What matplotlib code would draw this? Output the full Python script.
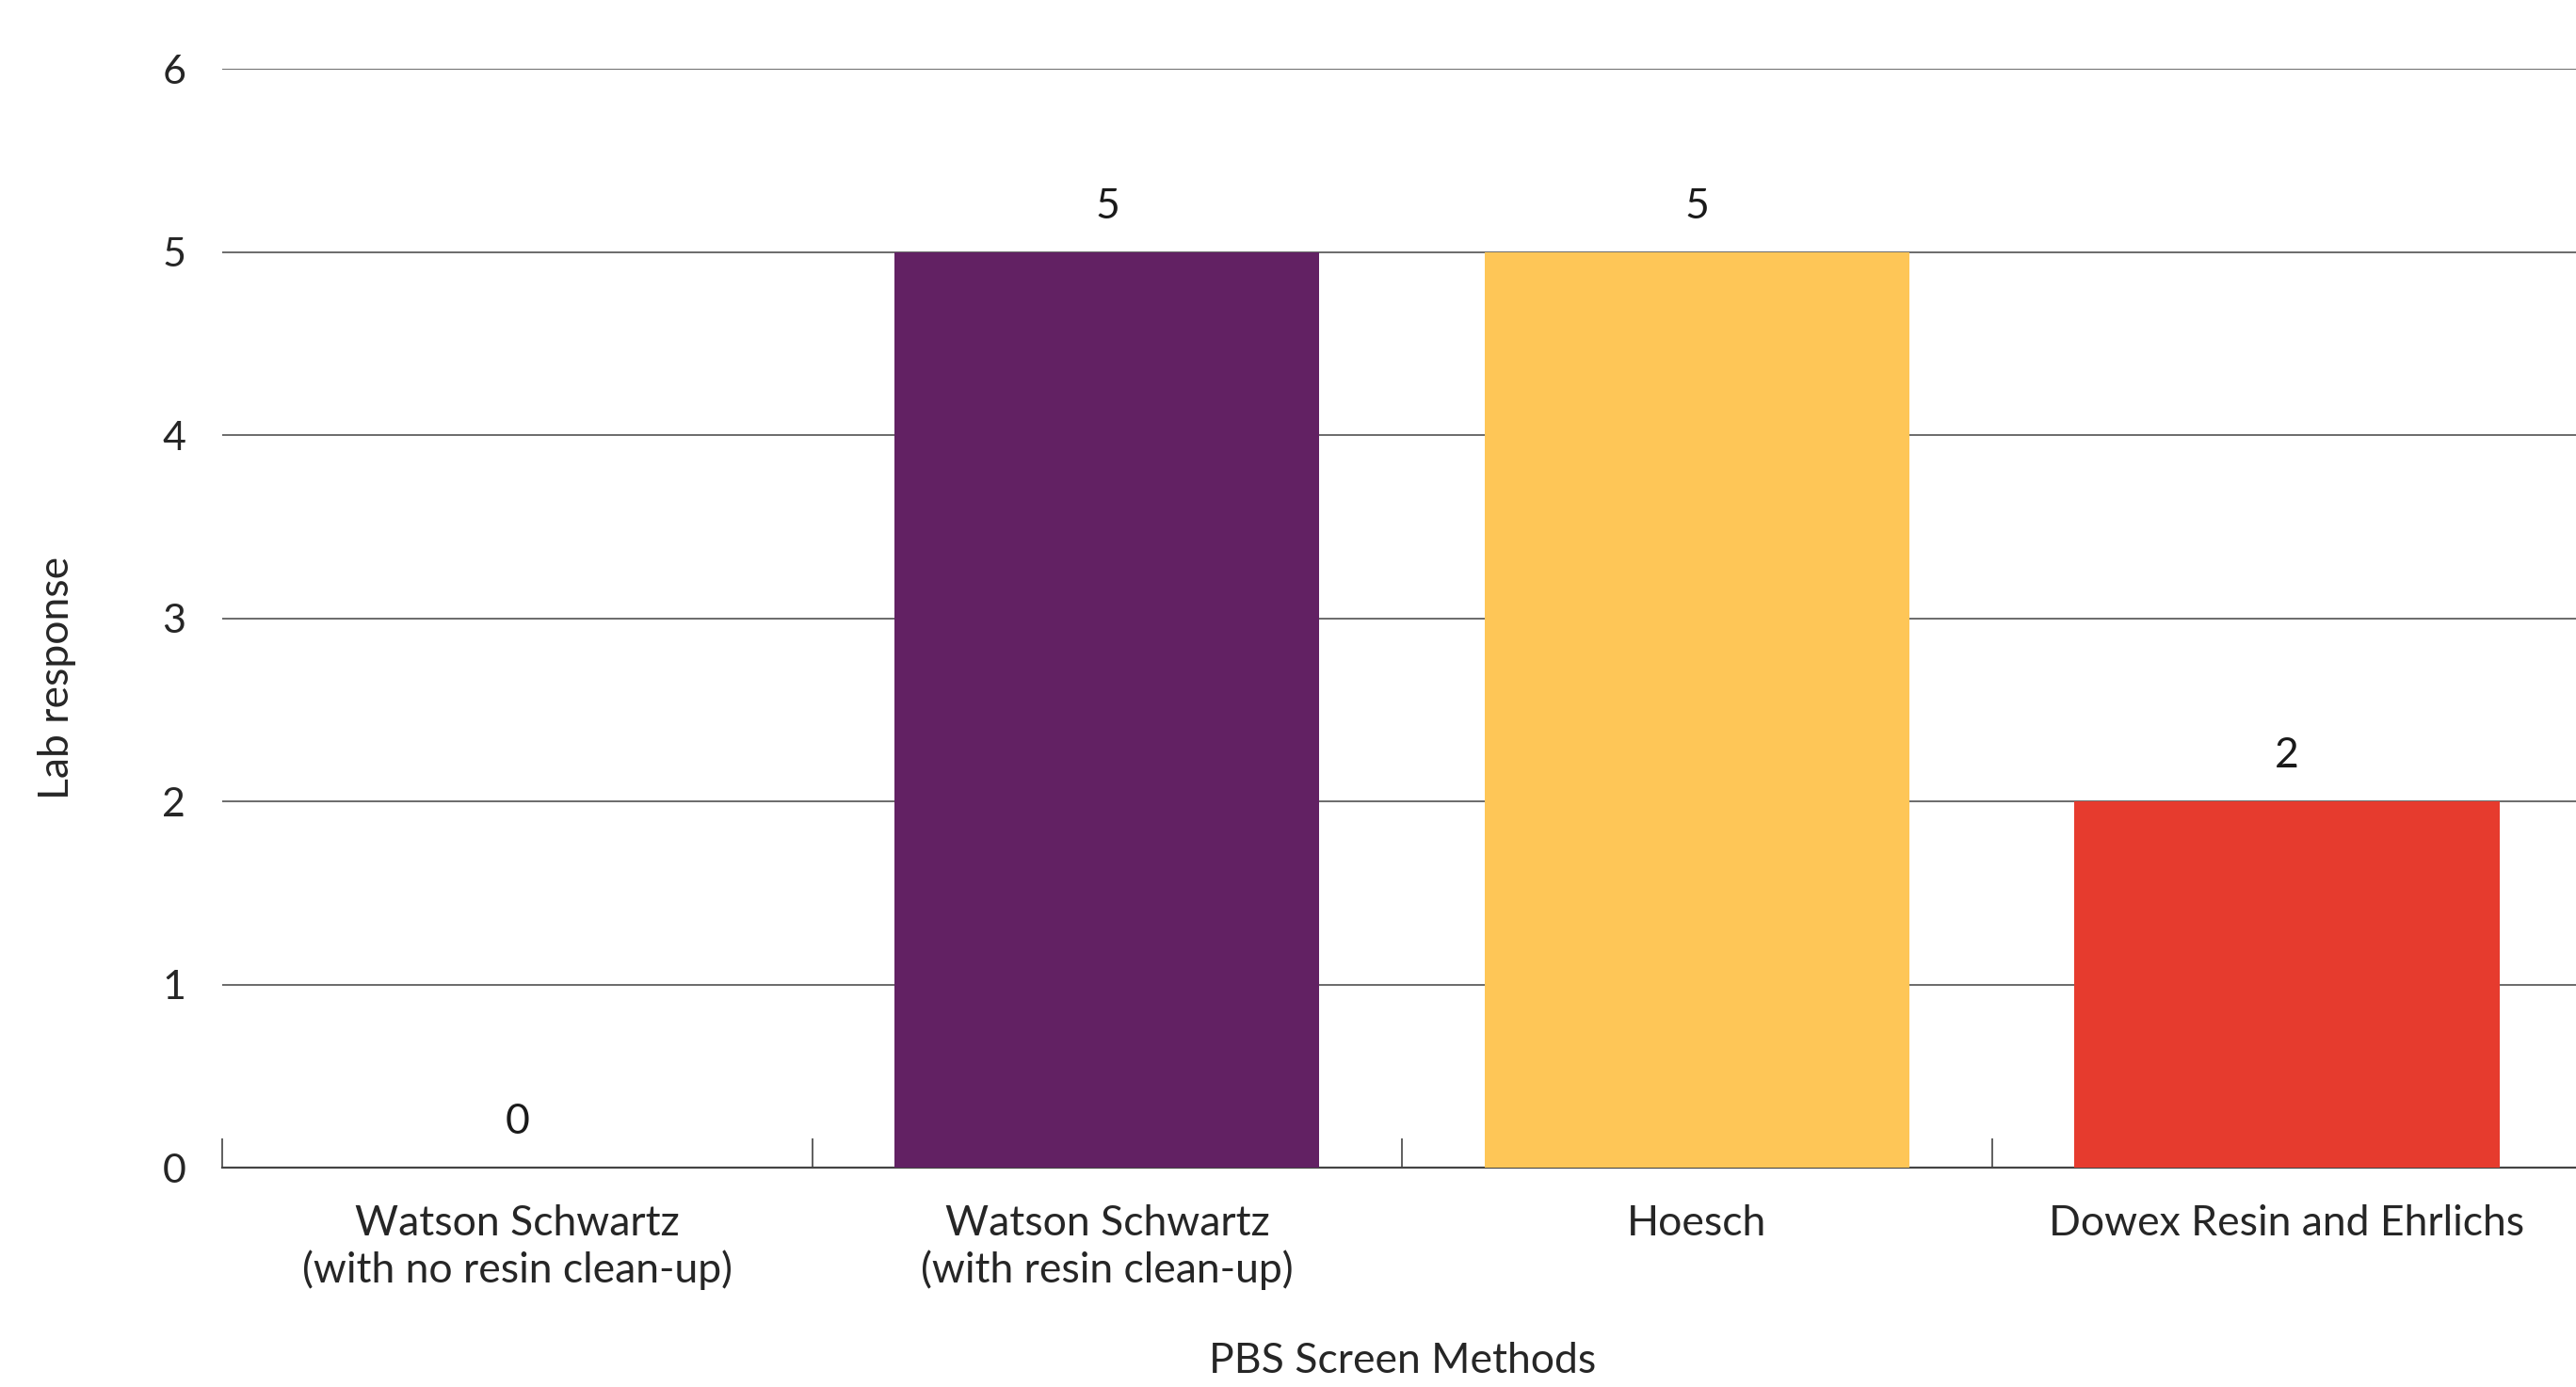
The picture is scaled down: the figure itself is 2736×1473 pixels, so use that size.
import numpy as np
import matplotlib
matplotlib.use('Agg')
import matplotlib.pyplot as plt

# data
methods = ['Watson Schwartz\n(with no resin clean-up)', 'Watson Schwartz\n(with resin clean-up)',
           'Hoesch', 'Dowex Resin and Ehrlichs']
responses = [0, 5, 5, 2]
bar_colors = ['#5a5a5a', '#622163', '#FEC657', '#E63B2E']
y_ticks = [0, 1, 2, 3, 4, 5, 6]

plt.rcParams['font.family'] = ['Lato', 'DejaVu Sans']
txt = '#262626'

fig = plt.figure(figsize=(27.36, 14.73), dpi=100)
ax = fig.add_axes([0.0863, 0.158, 0.916, 0.7924])

x = np.arange(len(methods))
ax.set_axisbelow(True)
ax.grid(axis='y', color='#6a6a6a', linewidth=1.4)
ax.bar(x, responses, 0.72, color=bar_colors, zorder=3)

for xi, v in zip(x, responses):
	ax.annotate(str(v), (xi, v), xytext=(0, 20), textcoords='offset points',
				ha='center', va='bottom', fontsize=32, color='#1a1a1a')

ax.set_xlim(-0.5, len(methods) - 0.5)
ax.set_ylim(0, 6)
ax.set_yticks(y_ticks)
ax.set_yticklabels([str(t) for t in y_ticks], fontsize=31, color=txt)
ax.tick_params(axis='y', length=0, pad=28)

# category separators as inward minor ticks, labels centred on the bars
ax.set_xticks(x)
ax.set_xticklabels(methods, fontsize=32, color=txt, linespacing=1.2)
ax.set_xticks(np.arange(len(methods) + 1) - 0.5, minor=True)
ax.tick_params(axis='x', which='major', length=0, pad=28)
ax.tick_params(axis='x', which='minor', direction='in', length=22, width=1.2, color='#444444')

for s in ['top', 'right', 'left']:
	ax.spines[s].set_visible(False)
ax.spines['bottom'].set_color('#444444')
ax.spines['bottom'].set_linewidth(1.6)

ax.set_xlabel('PBS Screen Methods', fontsize=32, color=txt, labelpad=40)
ax.set_ylabel('Lab response', fontsize=32, color=txt)
ax.yaxis.set_label_coords(-0.062, 0.446)

plt.savefig('out.png', dpi=100)
plt.close('all')
